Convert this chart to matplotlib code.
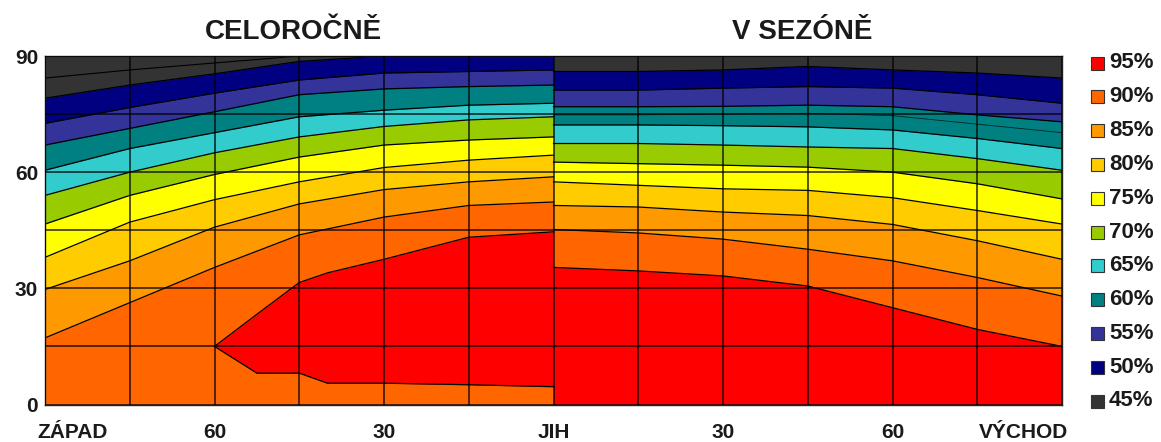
import matplotlib
matplotlib.use('Agg')
import matplotlib.pyplot as plt
from matplotlib.patches import Rectangle

plt.rcParams['font.family'] = ['Liberation Sans', 'DejaVu Sans']

# ---------------- data ----------------
levels = ['95%', '90%', '85%', '80%', '75%', '70%', '65%', '60%', '55%', '50%', '45%']
colors = ['#FF0000', '#FF6600', '#FF9900', '#FFCC00', '#FFFF00', '#99CC00',
          '#33CCCC', '#008080', '#333399', '#000080', '#333333']

titles = ['CELOROČNĚ', 'V SEZÓNĚ']
xtick_pos = [-90, -60, -30, 0, 30, 60, 90]
xtick_labels = ['ZÁPAD', '60', '30', 'JIH', '30', '60', 'VÝCHOD']
ytick_pos = [0, 30, 60, 90]

# left half (CELOROČNĚ): azimuth west -> south, upper edge of each band
az_left = [-90, -75, -60, -45, -30, -15, 0]
left_90 = [17.2, 26.3, 35.4, 43.8, 48.4, 51.4, 52.3]
left_85 = [29.7, 37.1, 45.8, 51.8, 55.5, 57.5, 58.8]
left_80 = [38.0, 47.1, 52.9, 57.5, 61.2, 63.1, 64.4]
left_75 = [46.6, 54.0, 59.4, 63.9, 67.0, 68.3, 69.1]
left_70 = [54.0, 60.0, 65.0, 69.1, 71.8, 73.5, 74.3]
left_65 = [60.5, 66.1, 70.2, 74.3, 76.0, 77.3, 77.8]
left_60 = [67.0, 71.3, 75.6, 80.0, 81.5, 82.1, 82.5]
left_55 = [72.6, 76.7, 80.4, 83.8, 85.6, 86.0, 86.4]
left_50 = [79.1, 82.5, 85.4, 88.6, 90.0, 90.0, 90.0]
left_45_inner = [84.3, 86.4, 88.2, 90.0, 90.0, 90.0, 90.0]

# 95 % island in the left half
red_az = [-60, -52.5, -45, -40, -30, -15, 0]
red_low = [15.0, 8.1, 8.1, 5.5, 5.5, 5.1, 4.6]
red_high = [15.0, 23.3, 31.5, 34.0, 37.5, 43.2, 44.6]

# right half (V SEZÓNĚ): azimuth south -> east
az_right = [0, 15, 30, 45, 60, 75, 90]
right_95 = [35.4, 34.5, 33.2, 30.6, 25.0, 19.4, 15.0]
right_90 = [45.2, 44.3, 42.7, 40.1, 37.1, 32.8, 28.0]
right_85 = [51.4, 51.0, 49.7, 48.8, 46.5, 42.3, 37.5]
right_80 = [57.5, 56.6, 55.7, 55.3, 53.4, 50.1, 46.6]
right_75 = [62.6, 62.2, 61.8, 61.3, 60.0, 57.0, 53.1]
right_70 = [67.4, 67.4, 67.0, 66.5, 66.1, 63.5, 60.5]
right_65 = [72.2, 72.2, 72.0, 71.7, 70.9, 68.7, 66.1]
right_60_inner = [74.8, 74.8, 75.0, 75.2, 74.6, 72.4, 70.2]
right_60 = [76.9, 76.9, 77.0, 77.3, 76.9, 74.8, 73.0]
right_55 = [81.2, 81.2, 81.7, 82.1, 81.7, 80.0, 77.8]
right_50 = [86.0, 86.0, 86.4, 87.3, 86.4, 85.6, 84.3]

# ---------------- figure ----------------
W, H = 1161, 442
fig = plt.figure(figsize=(W / 100, H / 100), dpi=100)
ax = fig.add_axes([45 / W, (H - 404.5) / H, (1062 - 45) / W, (404.5 - 56) / H])


def draw_half(az, bounds, cols):
    # bounds: list of lower edges for each band (first is the floor)
    for lo, c in zip(bounds, cols):
        ax.fill_between(az, lo, [90] * len(az), color=c, lw=0, zorder=1)
    for b in bounds[1:]:
        ax.plot(az, b, color='black', lw=0.9, zorder=2, solid_joinstyle='round')


floor_l = [0] * len(az_left)
draw_half(az_left,
          [floor_l, left_90, left_85, left_80, left_75, left_70,
           left_65, left_60, left_55, left_50],
          colors[1:])
ax.plot(az_left, left_45_inner, color='black', lw=0.8, zorder=2)

# red island
ax.fill_between(red_az, red_low, red_high, color=colors[0], lw=0, zorder=1.5)
ax.plot(red_az, red_low, color='black', lw=0.9, zorder=2)
ax.plot(red_az, red_high, color='black', lw=0.9, zorder=2)

floor_r = [0] * len(az_right)
draw_half(az_right,
          [floor_r, right_95, right_90, right_85, right_80, right_75, right_70,
           right_65, right_60, right_55, right_50],
          colors)
ax.plot(az_right, right_60_inner, color='black', lw=0.6, alpha=0.7, zorder=2)

ax.set_xlim(-90, 90)
ax.set_ylim(0, 90)
ax.set_xticks(xtick_pos)
ax.set_xticklabels([''] + xtick_labels[1:-1] + [''])
ax.set_xticks(list(range(-90, 91, 15)), minor=True)
ax.set_yticks(ytick_pos)
ax.set_yticks([15, 45, 75], minor=True)
ax.set_axisbelow(False)
ax.grid(which='both', color='black', lw=1.1, alpha=0.85)
ax.tick_params(which='both', length=0)
ax.tick_params(axis='x', pad=13, labelsize=15)
ax.tick_params(axis='y', pad=5, labelsize=15)
for lab in ax.get_xticklabels() + ax.get_yticklabels():
    lab.set_fontweight('bold')
    lab.set_color('#1a1a1a')
for s in ax.spines.values():
    s.set_color('#222222')
    s.set_linewidth(1.0)

# end labels of the azimuth axis, kept inside the figure as in the original
xt = ax.get_xaxis_transform()
ax.text(-91.4, -18 / 348.5, xtick_labels[0], transform=xt, ha='left', va='top',
        fontsize=15, fontweight='bold', color='#1a1a1a', clip_on=False)
ax.text(91.0, -18 / 348.5, xtick_labels[-1], transform=xt, ha='right', va='top',
        fontsize=15, fontweight='bold', color='#1a1a1a', clip_on=False)

ax.text(-46, 96.2, titles[0], ha='center', va='center', fontsize=20,
        fontweight='bold', color='#1a1a1a', clip_on=False)
ax.text(44.0, 96.2, titles[1], ha='center', va='center', fontsize=20,
        fontweight='bold', color='#1a1a1a', clip_on=False)

# legend
for i, (lab, c) in enumerate(zip(levels, colors)):
    yc = 63 + i * 33.8
    fig.patches.append(Rectangle((1091 / W, (H - yc - 6.5) / H), 13 / W, 13 / H,
                                 transform=fig.transFigure, facecolor=c,
                                 edgecolor='#333333', lw=0.8))
    fig.text(1109 / W, (H - yc) / H, lab, ha='left', va='center', fontsize=16,
             fontweight='bold', color='#1a1a1a')

fig.savefig('out.png', dpi=100)
